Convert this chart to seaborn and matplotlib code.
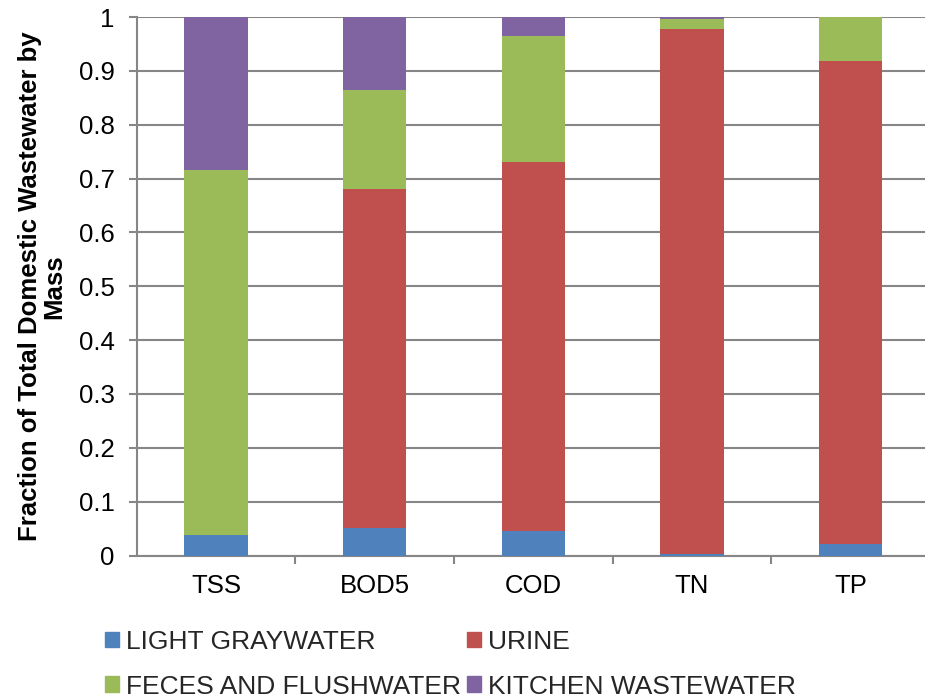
import numpy as np
import seaborn as sns
import matplotlib.pyplot as plt
from matplotlib.patches import Patch

# -----------------------------------
# Data (fraction of total mass)
# -----------------------------------
categories = ["TSS", "BOD5", "COD", "TN", "TP"]
light_graywater = [0.039, 0.052, 0.045, 0.003, 0.021]
urine = [0.000, 0.628, 0.685, 0.975, 0.897]
feces_flushwater = [0.677, 0.185, 0.234, 0.018, 0.082]
kitchen_wastewater = [0.284, 0.135, 0.036, 0.004, 0.000]

series = [
    ("LIGHT GRAYWATER", light_graywater, "#4F81BD"),
    ("URINE", urine, "#C0504D"),
    ("FECES AND FLUSHWATER", feces_flushwater, "#9BBB59"),
    ("KITCHEN WASTEWATER", kitchen_wastewater, "#8064A2"),
]

sns.set_theme(style="white")
plt.rcParams["font.family"] = ["Liberation Sans", "DejaVu Sans"]
FS = 18.5
LFS = 19
GRID = "#868686"

fig = plt.figure(figsize=(9.25, 7), dpi=100)
ax = fig.add_axes([0.148, 0.2064, 0.857, 0.7693])

# stacked bars
bottom = np.zeros(len(categories))
for name, vals, color in series:
    sns.barplot(x=categories, y=vals, bottom=bottom, color=color, saturation=1,
                width=0.40, ax=ax, zorder=3, linewidth=0)
    bottom += np.array(vals)

ax.set_ylim(0, 1)
ax.set_xlim(-0.5, len(categories) - 0.5)
ax.set_yticks(np.arange(0, 1.01, 0.1))
ax.set_yticklabels(["0"] + [f"{v:.1f}" for v in np.arange(0.1, 0.95, 0.1)] + ["1"])

# gridlines
ax.yaxis.grid(True, color=GRID, linewidth=1.5, zorder=0)
ax.set_axisbelow(True)

# spines
for s in ["top", "right"]:
    ax.spines[s].set_visible(False)
for s in ["left", "bottom"]:
    ax.spines[s].set_color(GRID)
    ax.spines[s].set_linewidth(1.5)

# x tick marks between categories
ax.set_xticks(np.arange(len(categories)))
ax.set_xticklabels(categories)
ax.set_xticks(np.arange(0.5, len(categories) - 0.5, 1), minor=True)
ax.tick_params(axis="x", which="major", length=0, pad=13.5, labelsize=FS, labelcolor="black")
ax.tick_params(axis="x", which="minor", length=6, width=1.5, color=GRID, direction="out")
ax.tick_params(axis="y", length=6, width=1.5, color=GRID, direction="out",
               labelsize=FS, labelcolor="black", pad=10)
ax.xaxis.set_ticks_position("bottom")
ax.yaxis.set_ticks_position("left")

ax.set_xlabel("")
ax.set_ylabel("Fraction of Total Domestic Wastewater by\nMass", fontsize=FS,
              fontweight="bold", labelpad=9, linespacing=1.0, color="black")

# legend below the plot
handles = [Patch(color=c, label=n) for n, _, c in series]
order = [0, 2, 1, 3]
fig.legend([handles[i] for i in order], [series[i][0] for i in order],
           loc="upper left", bbox_to_anchor=(105 / 925, 1 - 630 / 700), ncol=2,
           frameon=False, fontsize=LFS, handlelength=0.53, handleheight=0.53,
           handletextpad=0.25, columnspacing=0.25, labelspacing=0.78,
           borderaxespad=0, borderpad=0)

fig.savefig("out.png", dpi=100)
